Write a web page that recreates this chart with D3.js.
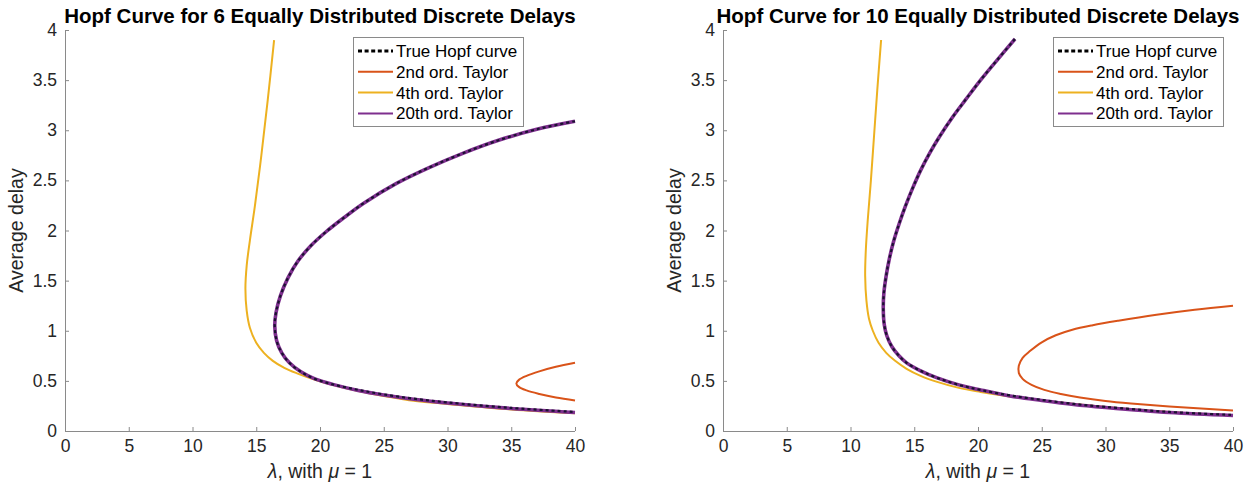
<!DOCTYPE html>
<html>
<head>
<meta charset="utf-8">
<script src="https://cdn.jsdelivr.net/npm/d3@7/dist/d3.min.js"></script>
<style>
html,body{margin:0;padding:0;background:#fff;}
svg{display:block;font-family:"Liberation Sans",Arial,Helvetica,sans-serif;}
</style>
</head>
<body>
<svg id="chart" width="1254" height="488"></svg>
<script>
// ---------- data ----------
const xTicks = [0, 5, 10, 15, 20, 25, 30, 35, 40];
const yTicks = [0, 0.5, 1, 1.5, 2, 2.5, 3, 3.5, 4];
const yTickLabels = ["0", "0.5", "1", "1.5", "2", "2.5", "3", "3.5", "4"];
const seriesNames = ["True Hopf curve", "2nd ord. Taylor", "4th ord. Taylor", "20th ord. Taylor"];
const titles = ["Hopf Curve for 6 Equally Distributed Discrete Delays",
                "Hopf Curve for 10 Equally Distributed Discrete Delays"];

// 6 delays  [lambda, average delay]
const true6 = [[40,3.09],[37,3.01],[34,2.90],[31.2,2.77],[28.6,2.63],[26,2.47],[23.4,2.27],
  [21.9,2.13],[20.5,1.99],[19.3,1.85],[18.3,1.70],[17.5,1.53],[16.9,1.35],[16.55,1.18],
  [16.45,1.05],[16.6,0.90],[17.0,0.78],[17.6,0.68],[18.5,0.59],[19.6,0.52],[21.0,0.465],
  [23,0.41],[25,0.365],[27.5,0.32],[30,0.285],[35,0.23],[40,0.19]];
const taylor20_6 = [[40,3.09],[37,3.01],[34,2.90],[31.2,2.77],[28.6,2.63],[26,2.47],[23.4,2.27],
  [21.9,2.13],[20.5,1.99],[19.3,1.85],[18.3,1.70],[17.5,1.53],[16.9,1.35],[16.55,1.18],
  [16.45,1.05],[16.6,0.90],[17.0,0.78],[17.6,0.68],[18.5,0.59],[19.6,0.52],[21.0,0.465],
  [23,0.405],[25,0.36],[27.5,0.315],[30,0.28],[35,0.225],[40,0.185]];
const taylor4_6 = [[16.4,3.90],[15.9,3.30],[15.4,2.75],[14.9,2.25],[14.5,1.90],[14.25,1.65],
  [14.15,1.42],[14.25,1.20],[14.5,1.03],[15.0,0.88],[15.6,0.78],[16.3,0.70],[17.2,0.63],
  [18.2,0.575],[19.5,0.515],[20.8,0.465],[23,0.40],[25,0.35],[27.5,0.30],[30,0.27],
  [35,0.215],[40,0.178]];
const taylor2_6 = [[40,0.68],[38.5,0.64],[37.2,0.595],[36.2,0.55],[35.6,0.51],[35.4,0.475],
  [35.6,0.44],[36.2,0.405],[37.2,0.37],[38.5,0.335],[40,0.305]];

// 10 delays
const true10 = [[22.9,3.91],[21.5,3.70],[20.2,3.50],[19.0,3.30],[18.0,3.13],[17.0,2.94],
  [16.2,2.77],[15.5,2.60],[14.9,2.43],[14.3,2.24],[13.85,2.08],[13.4,1.90],[13.05,1.72],
  [12.8,1.55],[12.62,1.38],[12.57,1.22],[12.65,1.06],[12.85,0.95],[13.25,0.84],[13.8,0.75],
  [14.4,0.68],[15.5,0.60],[16.8,0.53],[18.5,0.46],[20.2,0.41],[22.5,0.355],[25,0.31],
  [27.5,0.27],[30,0.24],[35,0.19],[40,0.16]];
const taylor20_10 = [[22.9,3.91],[21.5,3.70],[20.2,3.50],[19.0,3.30],[18.0,3.13],[17.0,2.94],
  [16.2,2.77],[15.5,2.60],[14.9,2.43],[14.3,2.24],[13.85,2.08],[13.4,1.90],[13.05,1.72],
  [12.8,1.55],[12.62,1.38],[12.57,1.22],[12.65,1.06],[12.85,0.95],[13.25,0.84],[13.8,0.75],
  [14.4,0.68],[15.5,0.60],[16.8,0.53],[18.5,0.46],[20.2,0.41],[22.5,0.35],[25,0.305],
  [27.5,0.265],[30,0.235],[35,0.185],[40,0.155]];
const taylor4_10 = [[12.4,3.90],[12.1,3.40],[11.85,2.95],[11.6,2.50],[11.35,2.10],[11.2,1.80],
  [11.15,1.55],[11.25,1.30],[11.45,1.12],[11.75,1.00],[12.2,0.88],[12.8,0.78],[13.5,0.70],
  [14.4,0.62],[15.5,0.55],[16.8,0.49],[18.5,0.43],[20.2,0.39],[22.5,0.345],[25,0.305],
  [30,0.24],[35,0.19],[40,0.155]];
const taylor2_10 = [[40,1.25],[37,1.21],[34,1.16],[31,1.10],[29,1.055],[27.4,1.01],[26.1,0.955],
  [25.0,0.885],[24.1,0.80],[23.5,0.73],[23.2,0.65],[23.2,0.58],[23.5,0.52],[24.2,0.46],
  [25.2,0.41],[26.5,0.37],[28,0.335],[30,0.30],[32,0.275],[35,0.245],[40,0.205]];

const panelsData = [
  {title: titles[0], trueC: true6, t2: taylor2_6, t4: taylor4_6, t20: taylor20_6},
  {title: titles[1], trueC: true10, t2: taylor2_10, t4: taylor4_10, t20: taylor20_10}
];

// ---------- styles / layout ----------
const colors = {t2: "#D95319", t4: "#EDB120", t20: "#7E2F8E", trueC: "#000000"};
const layout = [
  {left: 65, right: 575, legendX: 353, legendW: 170},
  {left: 723, right: 1233, legendX: 1053, legendW: 170}
];
const plotTop = 30, plotBottom = 431;
const axisColor = "#8a8a8a", textColor = "#262626";

const svg = d3.select("#chart");

panelsData.forEach((p, i) => {
  const L = layout[i];
  const x = d3.scaleLinear().domain([0, 40]).range([L.left, L.right]);
  const y = d3.scaleLinear().domain([0, 4]).range([plotBottom, plotTop]);
  const g = svg.append("g");

  const clipId = "clip" + i;
  g.append("clipPath").attr("id", clipId).append("rect")
    .attr("x", L.left).attr("y", plotTop - 2).attr("width", L.right - L.left + 2).attr("height", plotBottom - plotTop + 2);

  // axes
  const xAxis = d3.axisBottom(x).tickValues(xTicks).tickSize(-4).tickPadding(8).tickFormat(d3.format("d"));
  const yAxis = d3.axisLeft(y).tickValues(yTicks).tickSize(-4).tickPadding(8)
    .tickFormat((d, k) => yTickLabels[k]);
  const gx = g.append("g").attr("transform", `translate(0,${plotBottom})`).call(xAxis);
  const gy = g.append("g").attr("transform", `translate(${L.left},0)`).call(yAxis);
  [gx, gy].forEach(a => {
    a.select(".domain").attr("stroke", axisColor).attr("stroke-width", 1);
    a.selectAll(".tick line").attr("stroke", axisColor).attr("stroke-width", 1);
    a.selectAll(".tick text").attr("fill", textColor).attr("font-size", 17.5)
      .attr("font-family", "Liberation Sans, Arial, sans-serif");
  });
  gx.select(".domain").attr("d", `M${L.left},0.5H${L.right}`);
  gy.select(".domain").attr("d", `M0.5,${plotBottom}V${plotTop}`);
  gx.selectAll(".tick text").attr("dy", "0.74em");

  // lines
  const line = d3.line().x(d => x(d[0])).y(d => y(d[1])).curve(d3.curveCatmullRom.alpha(0.5));
  const plot = g.append("g").attr("clip-path", `url(#${clipId})`);
  plot.append("path").attr("d", line(p.t4)).attr("fill", "none").attr("stroke", colors.t4).attr("stroke-width", 2);
  plot.append("path").attr("d", line(p.t2)).attr("fill", "none").attr("stroke", colors.t2).attr("stroke-width", 2);
  plot.append("path").attr("d", line(p.t20)).attr("fill", "none").attr("stroke", colors.t20).attr("stroke-width", 3.6);
  plot.append("path").attr("d", line(p.trueC)).attr("fill", "none").attr("stroke", "#1a1230")
    .attr("stroke-width", 2.2).attr("stroke-dasharray", "3,3");

  // title
  g.append("text").attr("x", (L.left + L.right) / 2).attr("y", 23).attr("text-anchor", "middle")
    .attr("font-size", 20.5).attr("font-weight", "bold").attr("fill", "#000").text(p.title);

  // axis labels
  g.append("text").attr("transform", `translate(${L.left - 42},${(plotTop + plotBottom) / 2}) rotate(-90)`)
    .attr("text-anchor", "middle").attr("font-size", 19.5).attr("fill", textColor).text("Average delay");
  const xl = g.append("text").attr("x", (L.left + L.right) / 2).attr("y", 478).attr("text-anchor", "middle")
    .attr("font-size", 19.5).attr("fill", textColor);
  xl.append("tspan").attr("font-style", "italic").text("λ");
  xl.append("tspan").text(", with ");
  xl.append("tspan").attr("font-style", "italic").text("μ");
  xl.append("tspan").text(" = 1");

  // legend
  const lg = g.append("g");
  lg.append("rect").attr("x", L.legendX + 0.5).attr("y", 37.5).attr("width", L.legendW).attr("height", 89)
    .attr("fill", "#fff").attr("stroke", axisColor).attr("stroke-width", 1);
  const keys = ["trueC", "t2", "t4", "t20"];
  keys.forEach((k, j) => {
    const yy = 51 + j * 20.8;
    const ln = lg.append("line").attr("x1", L.legendX + 5).attr("x2", L.legendX + 40)
      .attr("y1", yy).attr("y2", yy).attr("stroke", colors[k]);
    if (k === "trueC") ln.attr("stroke-width", 3).attr("stroke-dasharray", "4,2.6");
    else ln.attr("stroke-width", 2);
    lg.append("text").attr("x", L.legendX + 43).attr("y", yy).attr("dy", "0.35em")
      .attr("font-size", 17).attr("fill", "#000").text(seriesNames[j]);
  });
});
</script>
</body>
</html>
